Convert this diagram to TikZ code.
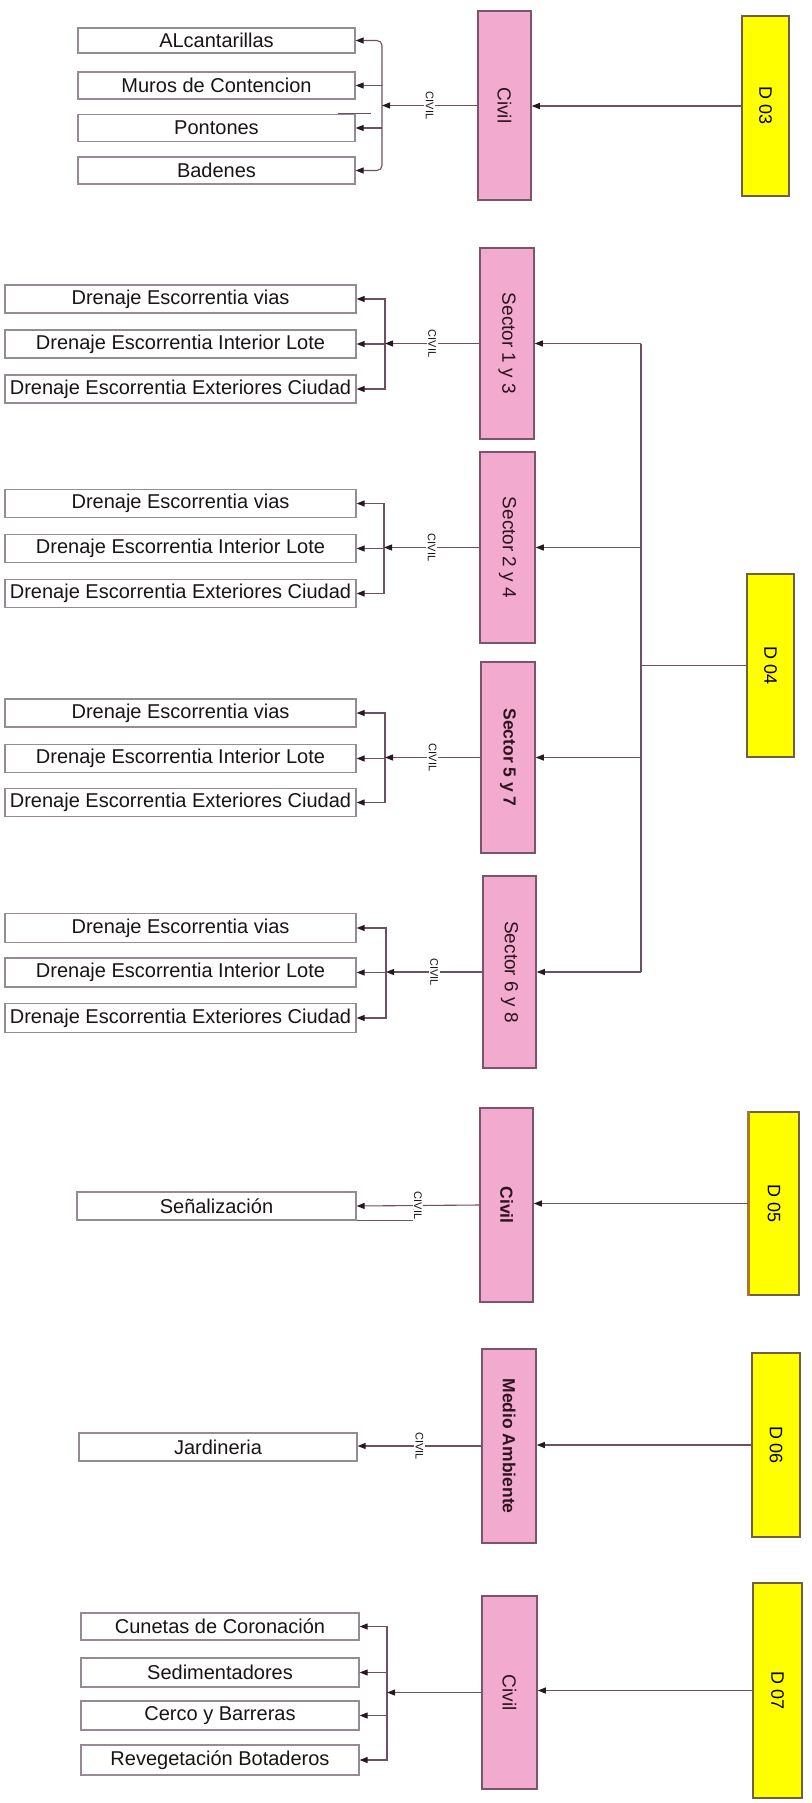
\documentclass[tikz,border=0pt]{standalone}
\usepackage{fontspec}
\setmainfont{Liberation Sans}
\usepackage{graphicx}
\usetikzlibrary{arrows.meta}
\definecolor{pinkfill}{RGB}{243,170,207}
\definecolor{pinkborder}{RGB}{125,85,105}
\definecolor{yellowfill}{RGB}{255,255,0}
\definecolor{yborder}{RGB}{110,95,70}
\definecolor{connc}{RGB}{110,80,98}
\definecolor{tipc}{RGB}{40,25,32}
\definecolor{itemborder}{RGB}{150,138,148}
\definecolor{txt}{RGB}{25,20,22}
\definecolor{pinktxt}{RGB}{45,20,32}
\definecolor{brownedge}{RGB}{170,120,40}
\newcommand{\vtext}[1]{\rotatebox{-90}{#1}}
\begin{document}
\begin{tikzpicture}[x=1pt,y=-1pt,
  >={Triangle[length=8pt,width=6pt,color=tipc]},
  item/.style={draw=itemborder, line width=1.2pt, fill=white, inner sep=0pt, minimum height=27pt, font=\fontsize{20}{24}\selectfont, text=txt},
  pinkbox/.style={draw=pinkborder, line width=1.5pt, fill=pinkfill, inner sep=0pt, font=\fontsize{19}{22}\selectfont, text=pinktxt},
  pinkbold/.style={pinkbox, font=\fontsize{17.5}{21}\selectfont\bfseries},
  ybox/.style={draw=yborder, line width=1.5pt, fill=yellowfill, inner sep=0pt, font=\fontsize{18}{22}\selectfont, text=black},
  conn/.style={draw=connc, line width=1.1pt},
  arr/.style={conn, ->},
  civ/.style={fill=white, inner sep=1.5pt, font=\fontsize{11}{13}\selectfont, text=txt}
]
\useasboundingbox[fill=white] (0,0) rectangle (811,1803);

% ---------------- D03 ----------------
\node[ybox, minimum width=47pt, minimum height=180pt] (D03) at (765.5,106) {\vtext{D 03}};
\node[pinkbox, minimum width=53pt, minimum height=189pt] (C3) at (504.5,105.5) {\vtext{Civil}};
\node[item, minimum width=277pt, minimum height=25pt] (a1) at (216.5,40.5) {ALcantarillas};
\node[item, minimum width=277pt] (a2) at (216.5,85.5) {Muros de Contencion};
\node[item, minimum width=277pt] (a3) at (216.5,128) {Pontones};
\node[item, minimum width=277pt] (a4) at (216.5,170.5) {Badenes};
\coordinate (B0) at (382,0);
\draw[conn, rounded corners=5pt, <->] (a1.east) -- (a1.east -| B0) -- (a4.east -| B0) -- (a4.east);
\draw[arr] (a2.east -| B0) -- (a2.east);
\draw[arr] (a3.east -| B0) -- (a3.east);
\draw[connc, line width=1.2pt] (a3.north east) ++(-18,0) -- ++(33,0);
\draw[arr] (C3.west) -- node[civ]{\vtext{CIVIL}} (C3.west -| B0);
\draw[arr] (D03.west) -- (D03.west -| C3.east);

% ---------------- D04 ----------------
\node[ybox, minimum width=47pt, minimum height=183pt] (D04) at (770.5,665.5) {\vtext{D 04}};
\node[pinkbox, minimum width=54pt, minimum height=191pt] (S13) at (507,343.5) {\vtext{Sector 1 y 3}};
\node[pinkbox, minimum width=55pt, minimum height=191pt] (S24) at (507.5,547.5) {\vtext{Sector 2 y 4}};
\node[pinkbold, minimum width=54pt, minimum height=191pt] (S57) at (508,757.5) {\vtext{Sector 5 y 7}};
\node[pinkbox, minimum width=53pt, minimum height=192pt] (S68) at (509.5,972) {\vtext{Sector 6 y 8}};

\coordinate (bus) at (641,0);
\draw[conn] (S13.east -| bus) -- (S68.east -| bus);
\draw[conn] (D04.west) -- (D04.west -| bus);
\draw[arr] (S13.east -| bus) -- (S13.east);
\draw[arr] (S24.east -| bus) -- (S24.east);
\draw[arr] (S57.east -| bus) -- (S57.east);
\draw[arr] (S68.east -| bus) -- (S68.east);

% Sector 1 y 3 group
\node[item, minimum width=351pt, minimum height=28pt] (s1a) at (180.5,299) {Drenaje Escorrentia vias};
\node[item, minimum width=351pt, minimum height=28pt] (s1b) at (180.5,344) {Drenaje Escorrentia Interior Lote};
\node[item, minimum width=351pt, minimum height=28pt] (s1c) at (180.5,389) {Drenaje Escorrentia Exteriores Ciudad};
\coordinate (B1) at (385,0);
\draw[conn, <->] (s1a.east) -- (s1a.east -| B1) -- (s1c.east -| B1) -- (s1c.east);
\draw[arr] (s1b.east -| B1) -- (s1b.east);
\draw[arr] (S13.west) -- node[civ]{\vtext{CIVIL}} (S13.west -| B1);

% Sector 2 y 4 group
\node[item, minimum width=351pt, minimum height=28pt] (s2a) at (180.5,503.5) {Drenaje Escorrentia vias};
\node[item, minimum width=351pt, minimum height=28pt] (s2b) at (180.5,548.5) {Drenaje Escorrentia Interior Lote};
\node[item, minimum width=351pt, minimum height=28pt] (s2c) at (180.5,593.5) {Drenaje Escorrentia Exteriores Ciudad};
\coordinate (B2) at (384,0);
\draw[conn, <->] (s2a.east) -- (s2a.east -| B2) -- (s2c.east -| B2) -- (s2c.east);
\draw[arr] (s2b.east -| B2) -- (s2b.east);
\draw[arr] (S24.west) -- node[civ]{\vtext{CIVIL}} (S24.west -| B2);

% Sector 5 y 7 group
\node[item, minimum width=351pt, minimum height=28pt] (s5a) at (180.5,713) {Drenaje Escorrentia vias};
\node[item, minimum width=351pt, minimum height=28pt] (s5b) at (180.5,758.5) {Drenaje Escorrentia Interior Lote};
\node[item, minimum width=351pt, minimum height=28pt] (s5c) at (180.5,802.5) {Drenaje Escorrentia Exteriores Ciudad};
\coordinate (B5) at (385,0);
\draw[conn, <->] (s5a.east) -- (s5a.east -| B5) -- (s5c.east -| B5) -- (s5c.east);
\draw[arr] (s5b.east -| B5) -- (s5b.east);
\draw[arr] (S57.west) -- node[civ]{\vtext{CIVIL}} (S57.west -| B5);

% Sector 6 y 8 group
\node[item, minimum width=351pt, minimum height=29pt] (s6a) at (180.5,928) {Drenaje Escorrentia vias};
\node[item, minimum width=351pt, minimum height=29pt] (s6b) at (180.5,972.5) {Drenaje Escorrentia Interior Lote};
\node[item, minimum width=351pt, minimum height=29pt] (s6c) at (180.5,1018) {Drenaje Escorrentia Exteriores Ciudad};
\coordinate (B6) at (386,0);
\draw[conn, <->] (s6a.east) -- (s6a.east -| B6) -- (s6c.east -| B6) -- (s6c.east);
\draw[arr] (s6b.east -| B6) -- (s6b.east);
\draw[arr] (S68.west) -- node[civ]{\vtext{CIVIL}} (S68.west -| B6);

% ---------------- D05 ----------------
\node[ybox, minimum width=50pt, minimum height=183pt] (D05) at (774,1203.5) {\vtext{D 05}};
\draw[brownedge, line width=2.5pt] (D05.north west) -- (D05.south west);
\node[pinkbold, minimum width=53pt, minimum height=194pt] (C5) at (506.5,1205) {\vtext{Civil}};
\node[item, minimum width=279pt, minimum height=28pt] (sen) at (216.5,1206) {Señalización};
\draw[conn] (sen.south east) -- ++(64,0);
\draw[arr] (C5.west) -- node[civ]{\vtext{CIVIL}} (sen.east);
\draw[arr] (D05.west) -- (D05.west -| C5.east);

% ---------------- D06 ----------------
\node[ybox, minimum width=48pt, minimum height=184pt] (D06) at (776,1445) {\vtext{D 06}};
\node[pinkbold, minimum width=54pt, minimum height=194pt] (MA) at (509,1446) {\vtext{Medio Ambiente}};
\node[item, minimum width=278pt, minimum height=28pt] (jar) at (218,1447) {Jardineria};
\draw[arr] (MA.west) -- node[civ]{\vtext{CIVIL}} (MA.west -| jar.east);
\draw[arr] (D06.west) -- (D06.west -| MA.east);

% ---------------- D07 ----------------
\node[ybox, minimum width=49pt, minimum height=215pt] (D07) at (777.5,1690.5) {\vtext{D 07}};
\node[pinkbox, minimum width=55pt, minimum height=193pt] (C7) at (509.5,1692.5) {\vtext{Civil}};
\node[item, minimum width=278pt, minimum height=27pt] (c1) at (220,1626.5) {Cunetas de Coronación};
\node[item, minimum width=278pt, minimum height=29pt] (c2) at (220,1672.5) {Sedimentadores};
\node[item, minimum width=278pt, minimum height=29pt] (c3) at (220,1715.5) {Cerco y Barreras};
\node[item, minimum width=278pt, minimum height=30pt] (c4) at (220,1760) {Revegetación Botaderos};
\coordinate (B7) at (387,0);
\draw[conn, <->] (c1.east) -- (c1.east -| B7) -- (c4.east -| B7) -- (c4.east);
\draw[arr] (c2.east -| B7) -- (c2.east);
\draw[arr] (c3.east -| B7) -- (c3.east);
\draw[arr] (C7.west) -- (C7.west -| B7);
\draw[arr] (D07.west) -- (D07.west -| C7.east);
\end{tikzpicture}
\end{document}
